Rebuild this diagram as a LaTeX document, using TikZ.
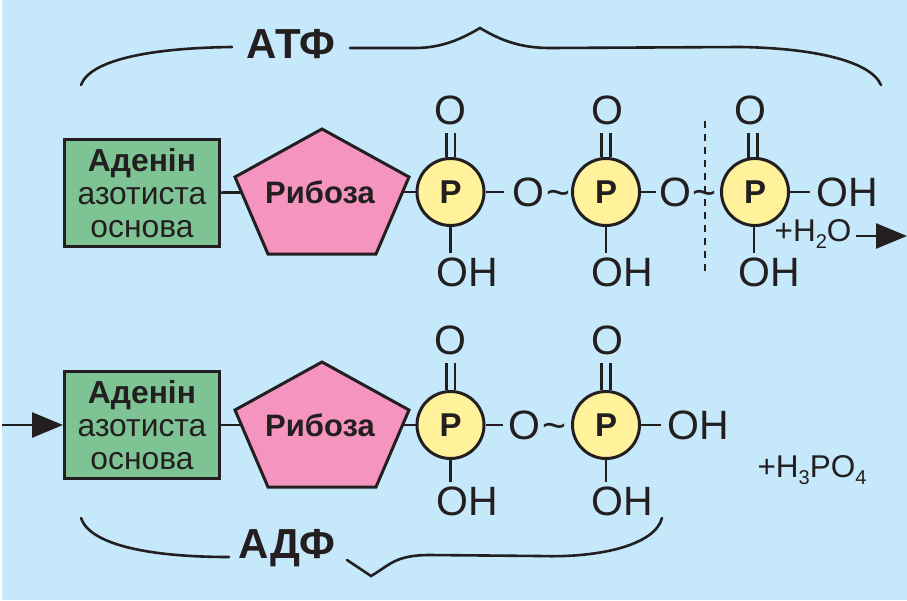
\documentclass[tikz,border=0pt]{standalone}
\usepackage{fontspec}
\setmainfont{Liberation Sans}
\usetikzlibrary{arrows.meta,backgrounds,calc}
\definecolor{ink}{HTML}{231F20}
\definecolor{sky}{HTML}{C5E8FA}
\definecolor{basegreen}{HTML}{7DC393}
\definecolor{sugarpink}{HTML}{F594BF}
\definecolor{phosyellow}{HTML}{FFF29A}
\newcommand{\lowidx}[1]{\raisebox{-.22em}{\fontsize{20}{20}\selectfont #1}}
\tikzset{
  x=1pt,y=-1pt,
  every node/.style={text=ink},
  atom/.style={font=\fontsize{41}{41}\selectfont,inner sep=0pt,text height=29.5pt,text depth=0pt},
  basebox/.style={draw=ink,line width=3pt,fill=basegreen,minimum width=155pt,minimum height=107pt,inner sep=0pt,align=center,font=\fontsize{31.8}{33}\selectfont},
  sugar/.style={draw=ink,line width=3pt,fill=sugarpink,line join=miter},
  sugarname/.style={font=\fontsize{31}{31}\selectfont\bfseries,inner sep=0pt},
  phosphate/.style={circle,draw=ink,line width=3pt,fill=phosyellow,minimum size=67pt,inner sep=0pt,font=\fontsize{33}{33}\selectfont\bfseries},
  bond/.style={draw=ink,line width=2.6pt},
  dblbond/.style={draw=ink,line width=2.6pt,double=sky,double distance=6pt},
  brace/.style={draw=ink,line width=2.6pt,line cap=round},
  bracename/.style={font=\fontsize{42}{42}\selectfont\bfseries,inner sep=0pt},
  formula/.style={font=\fontsize{31.5}{31.5}\selectfont,inner sep=0pt},
  bigarrow/.style={draw=ink,line width=2.6pt,-{Triangle[length=31pt,width=25pt]}},
}
\newcommand{\basetext}{{\bfseries Аденін}\\азотиста\\основа}
\begin{document}
\begin{tikzpicture}
\useasboundingbox (0,0) rectangle (907,600);

% upper molecule
\node[basebox] (box1) at (142,193) {\basetext};
\node[sugarname] (rib1) at (320,192) {Рибоза};
\node[phosphate] (p11) at (450.5,192) {P};
\node[phosphate] (p12) at (606,192) {P};
\node[phosphate] (p13) at (755,192) {P};
\node[atom] (o11) at (450,110) {O};
\node[atom] (o12) at (607,110) {O};
\node[atom] (o13) at (750,110) {O};
\node[atom] (oh11) at (467,272) {OH};
\node[atom] (oh12) at (622,272) {OH};
\node[atom] (oh13) at (769,272) {OH};
\node[atom] (br11) at (528,192) {O};
\node[atom] (br12) at (675,192) {O};
\node[atom] (ti11) at (558,192) {\char"007E};
\node[atom] (ti12) at (704,192) {\char"007E};
\node[atom] (oh1e) at (847,192) {OH};
\node[formula] (water) at (813,234) {+H\lowidx{2}O};
\coordinate (waterend) at (907,236);
\coordinate (cuttop) at (705,121);
\coordinate (cutbottom) at (705,276);

% lower molecule
\node[basebox] (box2) at (142,425) {\basetext};
\node[sugarname] (rib2) at (320,425) {Рибоза};
\node[phosphate] (p21) at (450.5,425) {P};
\node[phosphate] (p22) at (606,425) {P};
\node[atom] (o21) at (450,340) {O};
\node[atom] (o22) at (607,340) {O};
\node[atom] (oh21) at (467,501) {OH};
\node[atom] (oh22) at (622,501) {OH};
\node[atom] (br21) at (524,425) {O};
\node[atom] (ti21) at (554,425) {\char"007E};
\node[atom] (oh2e) at (698,425) {OH};
\node[formula] (acid) at (812,470) {+H\lowidx{3}PO\lowidx{4}};
\coordinate (inflow) at (2,425);

% labels of the braces
\node[bracename] (atp) at (291,44) {АТФ};
\node[bracename] (adp) at (287,548) {АДФ};
\coordinate (atpl) at (81,85);
\coordinate (atpr) at (881,85);
\coordinate (atppeak) at (480,28);
\coordinate (adpl) at (81,518);
\coordinate (adpr) at (662,518);
\coordinate (adppeak) at (371,576);

% ribose pentagons
\draw[sugar] (322,129) -- (409,177) -- (376,254) -- (268,254) -- (235,177) -- cycle;
\draw[sugar] (322,362) -- (409,410) -- (376,487) -- (268,487) -- (235,410) -- cycle;
\node[sugarname] at (rib1) {Рибоза};
\node[sugarname] at (rib2) {Рибоза};

\begin{scope}[on background layer]
  \fill[sky] (1.5,0) rectangle (907,600);
  % chain bonds, hidden where they pass under the shapes
  \draw[bond] (box1) -- (rib1);
  \draw[bond] (rib1) -- (p11);
  \draw[bond,shorten >=8pt] (p11) -- (br11.west);
  \draw[bond,shorten >=3pt] (p12) -- (br12.west);
  \draw[bond,shorten >=6pt] (p13) -- (oh1e.west);
  \draw[bond] (box2) -- (rib2);
  \draw[bond] (rib2) -- (p21);
  \draw[bond,shorten >=4.5pt] (p21) -- (br21.west);
  \draw[bond,shorten >=6pt] (p22) -- (oh2e.west);
  % P=O and P-OH bonds
  \foreach \p/\o/\h in {p11/o11/oh11,p12/o12/oh12,p21/o21/oh21,p22/o22/oh22}{
    \draw[dblbond,shorten >=8pt] (\p) -- (\p |- \o.south);
    \draw[bond,shorten >=4pt] (\p) -- (\p |- \h.north);
  }
  \draw[dblbond,shorten >=8pt] ($(p13)+(-2,0)$) -- ($(p13 |- o13.south)+(-2,0)$);
  \draw[bond,shorten >=4pt] ($(p13)+(-1,0)$) -- ($(p13 |- oh13.north)+(-1,0)$);
\end{scope}

% cleavage line and reaction arrows
\draw[ink,line width=2pt,dash pattern=on 7pt off 6pt] (cuttop) -- (cutbottom);
\draw[bigarrow,shorten <=4pt] (water.east |- waterend) -- (waterend);
\draw[bigarrow] (inflow) -- (box2.west);

% braces
\draw[brace] (atpl) .. controls (90,60) and (150,48) .. (232,47);
\draw[brace] (350,48) -- (415,48) .. controls (440,48) and (460,40) .. (atppeak)
  .. controls (500,40) and (520,48) .. (550,48) -- (740,47)
  .. controls (810,48) and (870,60) .. (atpr);
\draw[brace] (adpl) .. controls (90,545) and (150,557) .. (229,557);
\draw[brace] (347,560) -- (adppeak) .. controls (390,565) and (395,555) .. (430,555)
  -- (540,556) .. controls (600,558) and (655,545) .. (adpr);
\end{tikzpicture}
\end{document}
